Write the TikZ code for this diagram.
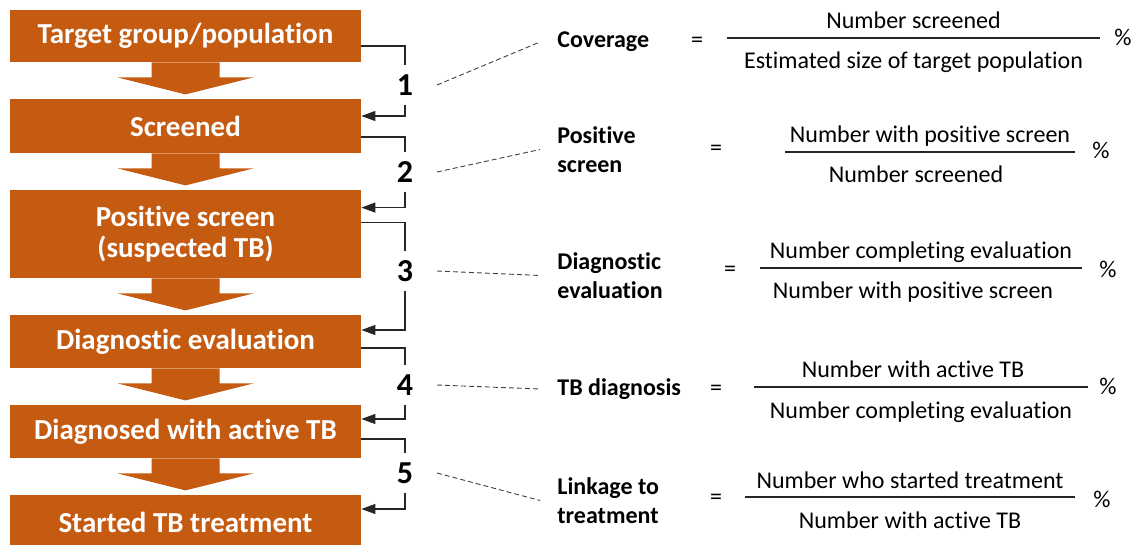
\documentclass[tikz,border=0pt]{standalone}
\usepackage{fontspec}
\setmainfont{Carlito}[Ligatures={NoCommon}]
\usetikzlibrary{positioning, calc, arrows.meta}
\definecolor{tborange}{HTML}{C55A11}

\begin{document}
\begin{tikzpicture}[x=0.5pt, y=-0.5pt,
  stage/.style={fill=tborange, text=white, font=\fontsize{14.5}{15.5}\selectfont\bfseries,
    minimum width=175.5pt, align=center, inner sep=0pt},
  stepno/.style={font=\fontsize{16}{16}\selectfont\bfseries, minimum height=19.5pt, inner sep=0pt},
  measure/.style={font=\fontsize{12}{14.5}\selectfont\bfseries, align=left, anchor=west, inner sep=0pt},
  ratio/.style={font=\fontsize{12}{14}\selectfont, inner sep=0pt},
  fracbar/.style={fill=black!85, inner sep=0pt, minimum height=0.6pt},
  link/.style={draw=black!85, line width=0.6pt},
  linkarrow/.style={link, -{Triangle[length=7pt, width=5pt]}},
  guide/.style={draw=black!75, line width=0.45pt, dash pattern=on 2.5pt off 1.5pt},
  downarrow/.pic={\fill[tborange] (-34,0) -- (-34,15) -- (-68,15) -- (0,32) -- (68,15) -- (34,15) -- (34,0) -- cycle;}
]
  \useasboundingbox (0,0) rectangle (1136,545);

  % stages
  \node[stage, minimum height=26pt]   (target)   at (185.5,36)    {Target group/population};
  \node[stage, minimum height=27pt]   (screened) at (185.5,126)   {Screened};
  \node[stage, minimum height=44pt]   (positive) at (185.5,234)   {Positive screen\\(suspected TB)};
  \node[stage, minimum height=26.5pt] (diageval) at (185.5,341.5) {Diagnostic evaluation};
  \node[stage, minimum height=26.5pt] (active)   at (185.5,431.5) {Diagnosed with active TB};
  \node[stage, minimum height=27.5pt] (treated)  at (185.5,522.5) {Started TB treatment};

  \foreach \b in {target, screened, positive, diageval, active}
    \pic at (\b.south) {downarrow};

  % step numbers
  \node[stepno] (n1) at (405,85)  {1};
  \node[stepno] (n2) at (405,172) {2};
  \node[stepno] (n3) at (405,271) {3};
  \node[stepno] (n4) at (405,385) {4};
  \node[stepno] (n5) at (405,473) {5};

  \draw[link] ([yshift=-5pt]target.east) -| (n1.north);
  \draw[linkarrow] (n1.south) |- ([yshift=5pt]screened.east);
  \draw[link] ([yshift=-5.5pt]screened.east) -| (n2.north);
  \draw[linkarrow] (n2.south) |- ([yshift=-9pt]positive.north east);
  \draw[link] ([yshift=-16.5pt]positive.north east) -| (n3.north);
  \draw[linkarrow] (n3.south) |- ([yshift=5.75pt]diageval.east);
  \draw[link] ([yshift=-3.25pt]diageval.east) -| (n4.north);
  \draw[linkarrow] (n4.south) |- ([yshift=6.25pt]active.east);
  \draw[link] ([yshift=-3.75pt]active.east) -| (n5.north);
  \draw[linkarrow] (n5.south) |- ([yshift=6.75pt]treated.east);

  % indicators
  \node[measure] (cov)  at (557,42)    {Coverage};
  \node[measure] (pos)  at (557,149.5) {Positive\\screen};
  \node[measure] (diag) at (557,275.5) {Diagnostic\\evaluation};
  \node[measure] (tbd)  at (557,389)   {TB diagnosis};
  \node[measure] (lnk)  at (557,500.5) {Linkage to\\treatment};

  \draw[guide] ([xshift=16pt]n1.center) -- ([xshift=-8.5pt]cov.west);
  \draw[guide] ([xshift=16pt]n2.center) -- ([xshift=-8.5pt]pos.west);
  \draw[guide] ([xshift=16pt]n3.center) -- ([xshift=-8.5pt]diag.west);
  \draw[guide] ([xshift=16pt]n4.center) -- ([xshift=-8.5pt]tbd.west);
  \draw[guide] ([xshift=16pt]n5.center) -- ([xshift=-8.5pt]lnk.west);

  \node[ratio] (eq1) at (697,42)  {=};
  \node[ratio] (eq2) at (716,150) {=};
  \node[ratio] (eq3) at (730,271) {=};
  \node[ratio] (eq4) at (716,390) {=};
  \node[ratio] (eq5) at (716,499) {=};

  \node[fracbar, minimum width=186.5pt] (bar1) at (913.5,38) {};
  \node[fracbar, minimum width=145pt]   (bar2) at (930,152)  {};
  \node[fracbar, minimum width=161pt]   (bar3) at (921,268)  {};
  \node[fracbar, minimum width=167pt]   (bar4) at (921,387)  {};
  \node[fracbar, minimum width=165pt]   (bar5) at (910,497)  {};

  \node[ratio, anchor=base] (top1) at ([yshift=4.5pt]bar1.center) {Number screened};
  \node[ratio, anchor=base] (bot1) at ([yshift=-15.5pt]bar1.center) {Estimated size of target population};
  \node[ratio, anchor=base] (top2) at ([yshift=4.5pt]bar2.center) {Number with positive screen};
  \node[ratio, anchor=base] (bot2) at ([xshift=-7pt, yshift=-15.5pt]bar2.center) {Number screened};
  \node[ratio, anchor=base] (top3) at ([yshift=4.5pt]bar3.center) {Number completing evaluation};
  \node[ratio, anchor=base] (bot3) at ([xshift=-4pt, yshift=-15.5pt]bar3.center) {Number with positive screen};
  \node[ratio, anchor=base] (top4) at ([xshift=-4pt, yshift=4.5pt]bar4.center) {Number with active TB};
  \node[ratio, anchor=base] (bot4) at ([yshift=-15.5pt]bar4.center) {Number completing evaluation};
  \node[ratio, anchor=base] (top5) at ([yshift=4.5pt]bar5.center) {Number who started treatment};
  \node[ratio, anchor=base] (bot5) at ([yshift=-15.5pt]bar5.center) {Number with active TB};

  \node[ratio] (pc1) at (1123,37)  {\%};
  \node[ratio] (pc2) at (1101,150) {\%};
  \node[ratio] (pc3) at (1108,269) {\%};
  \node[ratio] (pc4) at (1108,386) {\%};
  \node[ratio] (pc5) at (1102,499) {\%};
\end{tikzpicture}
\end{document}
